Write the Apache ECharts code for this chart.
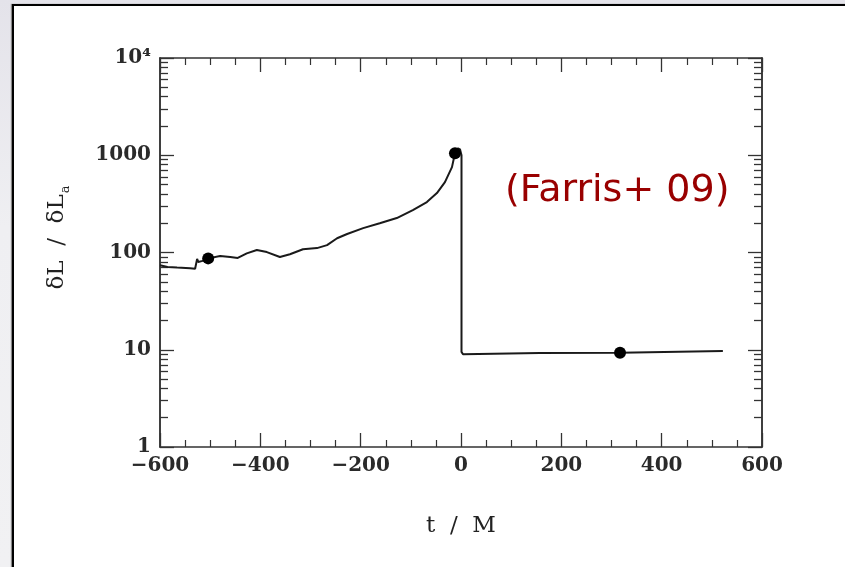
<!DOCTYPE html>
<html>
<head>
<meta charset="utf-8">
<script src="https://cdn.jsdelivr.net/npm/echarts@6/dist/echarts.min.js"></script>
<style>
  html, body { margin: 0; padding: 0; }
  body { width: 845px; height: 567px; overflow: hidden; position: relative;
         background: linear-gradient(180deg, #e4e3ea 0%, #efeff2 40%, #f1f1f3 100%); }
  #box { position: absolute; left: 12px; top: 4px; width: 860px; height: 600px;
         background: #fff; border: 2px solid #000; box-shadow: -1px 0 1px #888; }
  #main { position: absolute; left: 0; top: 0; width: 845px; height: 567px; }
</style>
</head>
<body>
<div id="box"></div>
<div id="main"></div>
<script>
// t / M along the curve, and dL / dL_a
var timeM = [-600, -585, -566, -540, -530, -527, -526, -524, -522, -515, -504,
  -480, -460, -445, -427, -407, -387, -361, -341, -315, -287, -267, -247, -227,
  -195, -162, -128, -96, -68, -48, -32, -18, -12, -6, -2, 1, 1, 4, 157, 317, 522];
var ratio = [74, 71, 70, 69, 68, 70, 86, 80, 77, 82, 87,
  92, 90, 88, 98, 106, 101, 90, 96, 108, 111, 119, 140, 155,
  178, 200, 226, 273, 330, 408, 529, 755, 1050, 1180, 1150, 1000, 9.5, 9.0, 9.25, 9.3, 9.7];

// marked points
var dotTime = [-504, -12, 317];
var dotRatio = [87, 1050, 9.3];

var yMajorTicks = [1, 10, 100, 1000, 10000];
var yMinorTicks = [];
for (var d = 1; d < 10000; d *= 10) {
  for (var k = 2; k <= 9; k++) yMinorTicks.push(d * k);
}

var lineData = timeM.map(function (t, i) { return [t, ratio[i]]; });
var dotData = dotTime.map(function (t, i) { return [t, dotRatio[i]]; });

var axisColor = '#333';
var labelFont = 'DejaVu Serif';

function xAxisOf(pos, showLabel) {
  return {
    type: 'value',
    position: pos,
    min: -600,
    max: 600,
    interval: 200,
    splitLine: { show: false },
    axisLine: { onZero: false, lineStyle: { color: axisColor, width: 1.5 } },
    axisTick: { inside: true, length: 14, lineStyle: { color: axisColor, width: 1.3 } },
    minorTick: { show: true, splitNumber: 4, length: 7, lineStyle: { color: axisColor, width: 1.2 } },
    axisLabel: {
      show: showLabel,
      margin: 9,
      color: '#2a2a2a',
      fontFamily: labelFont,
      fontWeight: 'bold',
      fontSize: 20,
      formatter: function (v) { return String(v).replace('-', '\u2212'); }
    }
  };
}

function yAxisOf(pos, ticks, len, showLabel) {
  return {
    type: 'log',
    logBase: 10,
    position: pos,
    min: 1,
    max: 10000,
    splitLine: { show: false },
    axisLine: { show: true, onZero: false, lineStyle: { color: axisColor, width: 1.5 } },
    axisTick: { inside: true, length: len, customValues: ticks, lineStyle: { color: axisColor, width: 1.3 } },
    axisLabel: {
      show: showLabel,
      customValues: yMajorTicks,
      margin: 9,
      color: '#2a2a2a',
      fontFamily: labelFont,
      fontWeight: 'bold',
      fontSize: 20,
      formatter: function (v) {
        v = Math.round(v);
        return v === 10000 ? '10\u2074' : String(v);
      }
    }
  };
}

var chart = echarts.init(document.getElementById('main'));

var yLeft = yAxisOf('left', yMajorTicks, 14, true);
yLeft.name = '{m|\u03b4L  /  \u03b4L}{s|a}';
yLeft.nameLocation = 'middle';
yLeft.nameGap = 88;
yLeft.nameRotate = 90;
yLeft.nameTextStyle = {
  padding: [0, 0, 0, 30],
  rich: {
    m: { fontFamily: labelFont, fontSize: 23, color: '#222', lineHeight: 30 },
    s: { fontFamily: labelFont, fontSize: 13, color: '#222', lineHeight: 30, verticalAlign: 'bottom', padding: [14, 0, 0, 1] }
  }
};

var xBottom = xAxisOf('bottom', true);
xBottom.name = 't  /  M';
xBottom.nameLocation = 'middle';
xBottom.nameGap = 68;
xBottom.nameTextStyle = { fontFamily: labelFont, fontSize: 23, color: '#222' };

var option = {
  animation: false,
  grid: { left: 160, right: 83, top: 58, bottom: 120 },
  xAxis: [xBottom, xAxisOf('top', false)],
  yAxis: [
    yLeft,
    yAxisOf('left', yMinorTicks, 8, false),
    yAxisOf('right', yMajorTicks, 14, false),
    yAxisOf('right', yMinorTicks, 8, false)
  ],
  graphic: [{
    type: 'text',
    left: 505,
    top: 172,
    style: {
      text: '(Farris+ 09)',
      fill: '#990000',
      font: '38px "Comic Sans MS", "DejaVu Sans", sans-serif'
    }
  }],
  series: [
    {
      type: 'line',
      data: lineData,
      showSymbol: false,
      lineStyle: { color: '#1a1a1a', width: 2 },
      z: 3
    },
    {
      type: 'scatter',
      data: dotData,
      symbolSize: 12,
      itemStyle: { color: '#000', opacity: 1 },
      z: 4
    }
  ]
};

chart.setOption(option);
</script>
</body>
</html>
